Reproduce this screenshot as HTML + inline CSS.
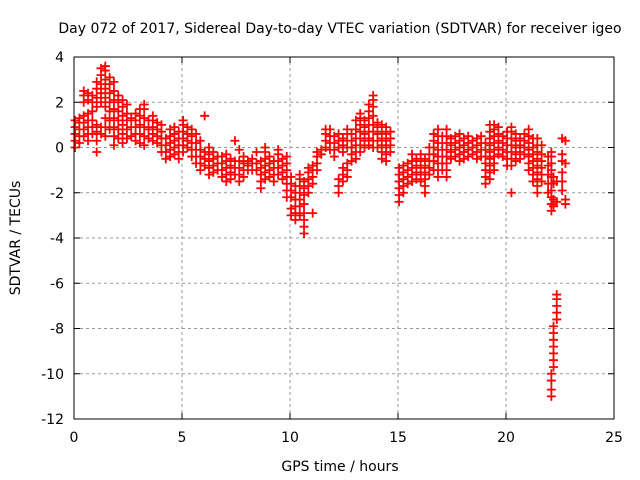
<!DOCTYPE html>
<html><head><meta charset="utf-8"><style>
body{margin:0;background:#fff}
svg{display:block;font-family:"DejaVu Sans","Liberation Sans",sans-serif}
</style></head><body>
<svg id="chart" width="640" height="480" viewBox="0 0 640 480">
<rect width="640" height="480" fill="#fff"/>
<text x="340" y="33" text-anchor="middle" font-size="14" fill="#000">Day 072 of 2017, Sidereal Day-to-day VTEC variation (SDTVAR) for receiver igeo</text>
<g id="grid"></g>
<g id="ticks"></g>
<g id="marks"></g>
<rect x="74" y="57" width="540" height="362" fill="none" stroke="#000" stroke-width="1"/>
<text x="340" y="471" text-anchor="middle" font-size="14">GPS time / hours</text>
<text transform="translate(20,238) rotate(-90)" text-anchor="middle" font-size="14">SDTVAR / TECUs</text>
</svg>
<script>
const xTicks=[0,5,10,15,20,25];
const yTicks=[4,2,0,-2,-4,-6,-8,-10,-12];
const times=[0.05,0.25,0.45,0.65,0.85,1.05,1.25,1.45,1.65,1.85,2.05,2.25,2.45,2.65,2.85,3.05,3.25,3.45,3.65,3.85,4.05,4.25,4.45,4.65,4.85,5.05,5.25,5.45,5.65,5.85,6.05,6.25,6.45,6.65,6.85,7.05,7.25,7.45,7.65,7.85,8.05,8.25,8.45,8.65,8.85,9.05,9.25,9.45,9.65,9.85,10.05,10.25,10.45,10.65,10.85,11.05,11.25,11.45,11.65,11.85,12.05,12.25,12.45,12.65,12.85,13.05,13.25,13.45,13.65,13.85,14.05,14.25,14.45,14.65,15.05,15.25,15.45,15.65,15.85,16.05,16.25,16.45,16.65,16.85,17.05,17.25,17.45,17.65,17.85,18.05,18.25,18.45,18.65,18.85,19.05,19.25,19.45,19.65,19.85,20.05,20.25,20.45,20.65,20.85,21.05,21.25,21.45,21.65,21.95,22.1,22.2,22.35,22.6,22.75];
const values=[
[0,0.3,0.6,0.9,1.2],[0.2,0.5,0.8,1.1,1.3],[0.5,0.8,1.1,1.4,2.0,2.3,2.5],[0.3,0.6,0.9,1.2,1.5,2.1,2.4],[0.6,0.9,1.2,1.6,2.0,2.3],
[-0.2,0.3,0.7,1.0,1.8,2.2,2.6,2.9],[0.6,0.9,2.0,2.4,2.8,3.2,3.5],[0.5,0.9,1.3,1.8,2.2,2.6,3.0,3.4,3.6],[0.8,1.2,1.6,2.0,2.4,2.8,3.1],[0.1,0.5,0.9,1.3,1.7,2.1,2.5,2.9],
[0.4,0.8,1.2,1.6,2.0,2.3],[0.2,0.6,1.0,1.4,1.8,2.1],[0.4,0.8,1.2,1.5,1.9],[0.5,0.9,1.3],[0.3,0.6,0.9,1.2,1.5],
[0.2,0.6,1.0,1.4,1.7],[0.1,0.5,0.9,1.3,1.7,1.9],[0.4,0.8,1.2],[0.3,0.6,0.9,1.2,1.4],[0.2,0.5,0.8,1.1],
[-0.2,0.1,0.4,0.7,1.0],[-0.5,-0.2,0.1,0.4],[-0.4,-0.1,0.2,0.5,0.8],[-0.3,0.0,0.3,0.6,0.9],[-0.5,-0.2,0.1,0.4,0.7],
[-0.2,0.1,0.4,0.7,1.0,1.2],[0.0,0.3,0.6,0.9],[-0.4,-0.1,0.2,0.5,0.8],[-0.7,-0.4,-0.1,0.2,0.6],[-1.0,-0.7,-0.4,-0.1,0.3],
[-0.8,-0.5,-0.2,1.4],[-1.2,-0.9,-0.6,-0.3,0.0],[-1.1,-0.8,-0.5,-0.2],[-1.0,-0.7,-0.4],[-1.3,-1.0,-0.7,-0.4],
[-1.5,-1.2,-0.9,-0.6,-0.3],[-1.4,-1.1,-0.8,-0.5],[-1.2,-0.9,-0.6,0.3],[-1.5,-1.2,-0.9,-0.6,-0.1],[-1.3,-1.0,-0.7,-0.4],
[-1.0,-0.8,-0.6],[-1.0,-0.7,-0.5],[-1.0,-0.7,-0.2],[-1.8,-1.5,-1.2,-0.9,-0.6],[-1.4,-1.1,-0.8,-0.5,-0.2,0.0],
[-1.3,-1.0,-0.7,-0.4],[-1.5,-1.2,-0.9,-0.6],[-1.2,-0.9,-0.6,-0.3,-0.1],[-1.4,-1.1,-0.8,-0.5],[-2.2,-1.9,-1.6,-1.3,-1.0,-0.7,-0.4],
[-3.0,-2.7,-2.2,-1.9,-1.6,-1.3],[-3.2,-2.9,-2.6,-2.3,-2.0,-1.7],[-3.0,-2.6,-2.3,-2.0,-1.7,-1.4,-1.2],[-3.8,-3.5,-3.2,-2.9,-2.5,-2.1,-1.8,-1.5],[-2.0,-1.7,-1.4,-1.1,-0.9],
[-2.9,-1.6,-1.3,-1.0,-0.8],[-1.0,-0.7,-0.4,-0.2],[-0.3,-0.1],[0.0,0.3,0.6,0.8],[-0.1,0.2,0.5,0.8],
[-0.4,-0.1,0.2,0.5],[-2.0,-1.7,-1.4,0.0,0.3,0.6],[-1.5,-1.2,-0.9,-0.2,0.1,0.4],[-1.3,-1.0,-0.7,0.0,0.3,0.6,0.8],[-0.6,-0.3,0.0,0.3,0.6],
[-0.5,-0.2,0.1,0.4,0.8,1.2],[-0.2,0.1,0.4,0.7,1.0,1.3,1.5],[0.0,0.3,0.6,0.9,1.2],[0.1,0.4,0.7,1.0,1.3,1.6,1.9],[0.0,0.3,0.7,1.0,1.4,1.8,2.1,2.3],
[0.0,0.3,0.6,0.9,1.1],[-0.5,-0.2,0.1,0.4,0.7,1.0],[-0.6,-0.3,0.0,0.3,0.6,0.9],[-0.2,0.1,0.4,0.7],
[-2.4,-2.1,-1.8,-1.5,-1.2,-0.9],[-2.0,-1.7,-1.4,-1.1,-0.8],[-1.6,-1.3,-1.0,-0.7],[-1.5,-1.2,-0.9,-0.6,-0.3],[-1.4,-1.1,-0.8,-0.5],
[-1.5,-1.2,-0.9,-0.6,-0.3],[-2.0,-1.7,-1.4,-1.1,-0.8,-0.5],[-1.2,-0.9,-0.6,-0.3,0.0],[-1.0,-0.6,-0.3,0.0,0.3,0.6],[-1.3,-1.0,-0.7,-0.4,-0.1,0.2,0.5,0.8],
[-1.0,-0.7,-0.4,-0.1,0.2,0.5],[-1.3,-1.0,-0.7,-0.4,-0.1,0.2,0.5,0.8],[-0.5,-0.2,0.1,0.4],[-0.4,-0.1,0.2,0.5],[-0.6,-0.3,0.0,0.3,0.6],
[-0.5,-0.2,0.1,0.4],[-0.4,-0.1,0.2,0.5],[-0.3,0.0,0.3],[-0.5,-0.2,0.1,0.4],[-0.4,-0.1,0.2,0.5],
[-1.6,-1.3,-1.0,-0.7,-0.4,-0.1,0.2],[-1.4,-1.1,-0.8,-0.5,-0.2,0.1,0.4,0.7,1.0],[-1.0,-0.7,-0.4,-0.1,0.2,0.5,0.8,1.0],[-0.3,0.0,0.3,0.6,0.9],[-0.4,-0.1,0.2,0.5],
[-0.8,-0.5,-0.2,0.1,0.4,0.7],[-2.0,-0.8,-0.5,-0.2,0.1,0.4,0.7,0.9],[-0.6,-0.3,0.0,0.3,0.6],[-0.5,-0.2,0.1,0.4],[-0.3,0.0,0.3,0.6],
[-1.0,-0.7,-0.4,-0.1,0.2,0.5,0.8],[-1.5,-1.2,-0.9,-0.6,-0.3,0.0,0.4],[-2.0,-1.7,-1.4,-1.1,-0.8,-0.5,-0.2,0.1,0.4],[-1.5,-1.2,-0.9,-0.6,-0.3,0.1],[-2.0,-1.6,-1.2,-0.8,-0.4],
[-2.8,-2.5,-2.2,-1.9,-1.6,-1.3,-1.0,-0.7,-0.4,-0.2,-11.0,-10.7,-10.3,-10.0],[-2.6,-2.3,-1.6,-1.3,-9.7,-9.4,-9.1,-8.8,-8.5,-8.2,-7.9],[-7.6,-7.3,-7.0,-6.7,-6.5,-1.5,-2.4],[0.4,-0.3,-0.6,-1.1,-1.5,-1.9],[0.3,-0.7,-2.3,-2.5]
];
const NS='http://www.w3.org/2000/svg';
const X0=74,X1=614,Y0=419,Y1=57,xMin=0,xMax=25,yMin=-12,yMax=4;
function xs(v){return X0+(v-xMin)/(xMax-xMin)*(X1-X0);}
function ys(v){return Y0-(v-yMin)/(yMax-yMin)*(Y0-Y1);}
function mk(tag,attrs,parent){const e=document.createElementNS(NS,tag);for(const k in attrs)e.setAttribute(k,attrs[k]);parent.appendChild(e);return e;}
const grid=document.getElementById('grid'),ticks=document.getElementById('ticks'),marks=document.getElementById('marks');
xTicks.forEach(t=>{
  const x=xs(t);
  if(t>xMin&&t<xMax){const g=mk('line',{x1:x,x2:x,y1:Y0,y2:Y1,stroke:'#999','stroke-dasharray':'3,3'},grid);
  
  }
  mk('line',{x1:x,x2:x,y1:Y0,y2:Y0-6,stroke:'#000'},ticks);
  mk('line',{x1:x,x2:x,y1:Y1,y2:Y1+6,stroke:'#000'},ticks);
  const l=mk('text',{x:x,y:Y0+23,'text-anchor':'middle','font-size':'14'},ticks);l.textContent=t;
  
  
});
yTicks.forEach(t=>{
  const y=ys(t);
  if(t>yMin&&t<yMax){const g=mk('line',{x1:X0,x2:X1,y1:y,y2:y,stroke:'#999','stroke-dasharray':'3,3'},grid);
  
  }
  mk('line',{x1:X0,x2:X0+6,y1:y,y2:y,stroke:'#000'},ticks);
  mk('line',{x1:X1,x2:X1-6,y1:y,y2:y,stroke:'#000'},ticks);
  const l=mk('text',{x:X0-10,y:y+5,'text-anchor':'end','font-size':'14'},ticks);l.textContent=t;
  
  
});
let d='';
times.forEach((t,i)=>{values[i].forEach(v=>{const x=xs(t),y=ys(v);d+=`M${x-4.5},${y}h9M${x},${y-4.5}v9`;});});
const p=mk('path',{d:d,stroke:'#f00','stroke-width':'1.8',fill:'none'},marks);


</script>
</body></html>
